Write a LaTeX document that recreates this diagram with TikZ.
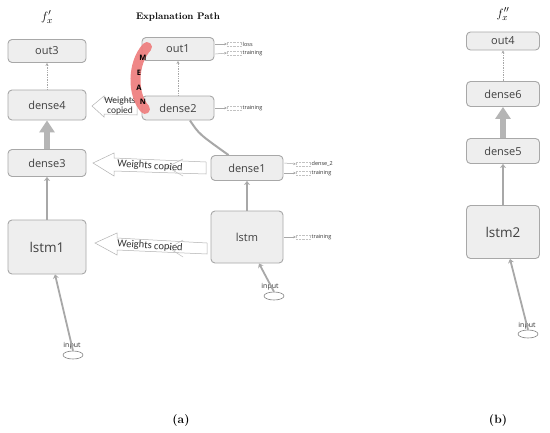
\documentclass[tikz,border=0pt]{standalone}
\usepackage{fontspec}
\setsansfont{Open Sans}
\newfontfamily\calfont{Carlito}
\usetikzlibrary{arrows.meta,calc,shapes.geometric}
\definecolor{boxfill}{HTML}{EEEEEE}
\definecolor{boxline}{HTML}{A8A8A8}
\definecolor{conn}{HTML}{A8A8A8}
\definecolor{meanred}{HTML}{EE7B7B}
\begin{document}
\begin{tikzpicture}[x=1pt,y=-1pt,
  layer/.style={draw=boxline, line width=0.9pt, fill=boxfill, rounded corners=4pt,
    font=\sffamily\fontsize{11}{13}\selectfont, text=black!75, inner sep=0pt},
  biglayer/.style={layer, font=\sffamily\fontsize{13.5}{15}\selectfont},
  dotconn/.style={draw=conn, densely dotted, line width=0.7pt, -{Stealth[length=3pt,width=3pt]}},
  fatconn/.style={draw=conn!85, line width=6pt, -{Triangle[length=12pt,width=15pt]}},
  lineconn/.style={draw=conn, line width=2.6pt, -{Stealth[length=4pt,width=6pt]}},
  outconn/.style={draw=conn, line width=0.5pt, -{Stealth[length=2.5pt,width=2.5pt]}},
  outbox/.style={draw=boxline!70, densely dotted, line width=0.4pt, minimum width=14pt, minimum height=4.5pt, inner sep=0pt},
  outlabel/.style={font=\sffamily\fontsize{5.5}{6}\selectfont, anchor=west, inner sep=0.5pt, text=black!80},
  wcopy/.style={draw=black!30, line width=0.5pt, fill=white},
  wtext/.style={font=\calfont\fontsize{10.5}{11}\selectfont, text=black!80},
  inp/.style={draw=black!50, line width=0.6pt, ellipse, minimum width=20pt, minimum height=8pt, inner sep=0pt},
  inplabel/.style={font=\sffamily\fontsize{7}{8}\selectfont, text=black!80, inner sep=0pt},
  meanletter/.style={font=\sffamily\bfseries\fontsize{7.5}{8}\selectfont, inner sep=0pt}
]
\useasboundingbox (0,0) rectangle (550,432);
\fill[white] (0,0) rectangle (550,432);

% titles
\node (t1) at (47,17) {\fontsize{12.5}{14}\selectfont $f'_x$};
\node (t2) at (178,17) {\bfseries\fontsize{9.5}{11}\selectfont Explanation Path};
\node (t3) at (503,14) {\fontsize{12.5}{14}\selectfont $f''_x$};
\node (ca) at (181,421) {\bfseries\fontsize{12}{14}\selectfont (a)};
\node (cb) at (498,421) {\bfseries\fontsize{12}{14}\selectfont (b)};

% weights copied arrows (behind boxes)
\draw[wcopy] (92,106) -- (104,96) -- (104,99) -- (137,101) -- (137,115) -- (104,114) -- (104,117) -- cycle;
\node[wtext, align=center, font=\calfont\fontsize{9.5}{10}\selectfont] (w1) at (120,106) {Weights\\copied};

\draw[wcopy] (93,163) -- (114,153) -- (114,158) -- (206,162) -- (206,174) -- (114,171) -- (114,176) -- cycle;
\draw[draw=black!25, line width=0.5pt] (183,159) -- (167,167) -- (183,176);
\node[wtext, rotate=-4] (w2) at (150,166) {Weights copied};

\draw[wcopy] (95,243) -- (117,233) -- (117,238) -- (207,243) -- (207,254) -- (117,250) -- (117,255) -- cycle;
\draw[draw=black!25, line width=0.5pt] (183,240) -- (169,248) -- (183,257);
\node[wtext, rotate=-4] (w3) at (150,246) {Weights copied};

% left column
\node[layer, minimum width=78pt, minimum height=23pt] (out3) at (47,51) {out3};
\node[layer, minimum width=78pt, minimum height=30pt] (dense4) at (47,105) {dense4};
\node[layer, minimum width=78pt, minimum height=27pt] (dense3) at (47,163) {dense3};
\node[biglayer, minimum width=78pt, minimum height=54pt] (lstm1) at (47,247) {lstm1};
\node[inp] (in1) at (73,355) {};
\node[inplabel] (in1l) at (72,346) {input};

% middle column
\node[layer, minimum width=72pt, minimum height=23pt] (out1) at (178,49) {out1};
\node[layer, minimum width=72pt, minimum height=24pt] (dense2) at (178,108) {dense2};
\node[layer, minimum width=72pt, minimum height=25pt] (dense1) at (247,168) {dense1};
\node[layer, minimum width=72pt, minimum height=52pt] (lstm) at (247,237) {lstm};
\node[inp] (in2) at (274,296) {};
\node[inplabel] (in2l) at (270,287) {input};

% right column
\node[layer, minimum width=73pt, minimum height=18pt] (out4) at (503,41) {out4};
\node[layer, minimum width=73pt, minimum height=25pt] (dense6) at (503,94) {dense6};
\node[layer, minimum width=73pt, minimum height=25pt] (dense5) at (503,151) {dense5};
\node[biglayer, minimum width=73pt, minimum height=53pt] (lstm2) at (503,232) {lstm2};
\node[inp] (in3) at (528,334) {};
\node[inplabel] (in3l) at (527,326) {input};

% connectors left
\draw[dotconn] (dense4.north) -- (out3.south);
\draw[fatconn] (dense3.north) -- (dense4.south);
\draw[lineconn] (lstm1.north) -- (dense3.south);
\draw[lineconn, line width=1.8pt] (in1.north) -- ($(lstm1.south)+(8,0)$);

% connectors middle
\draw[dotconn] (dense2.north) -- (out1.south);
\draw[draw=conn, line width=2pt] ($(dense2.south)+(12,0)$) .. controls (199,134) .. ($(dense1.north west)+(18,0)$);
\draw[lineconn] (lstm.north) -- (dense1.south);
\draw[lineconn, line width=1.8pt] (in2.north) -- ($(lstm.south)+(12,0)$);

% connectors right
\draw[dotconn] (dense6.north) -- (out4.south);
\draw[fatconn] (dense5.north) -- (dense6.south);
\draw[lineconn] (lstm2.north) -- (dense5.south);
\draw[lineconn, line width=1.8pt] (in3.north) -- ($(lstm2.south)+(7,0)$);

% small outputs
\node[outbox] (ob1) at (234,44) {};
\node[outlabel] (ol1) at (242,44) {loss};
\node[outbox] (ob2) at (234,53) {};
\node[outlabel] (ol2) at (242,53) {training};
\draw[outconn] ($(out1.east)+(1,-5)$) -- (ob1.west);
\draw[outconn] ($(out1.east)+(1,5)$) -- (ob2.west);

\node[outbox] (ob3) at (234,108) {};
\node[outlabel] (ol3) at (242,108) {training};
\draw[outconn] ($(dense2.east)+(1,0)$) -- (ob3.west);

\node[outbox] (ob4) at (303,164) {};
\node[outlabel] (ol4) at (311,164) {dense\_2};
\node[outbox] (ob5) at (303,173) {};
\node[outlabel] (ol5) at (311,173) {training};
\draw[outconn] ($(dense1.east)+(1,-5)$) -- (ob4.west);
\draw[outconn] ($(dense1.east)+(1,5)$) -- (ob5.west);

\node[outbox] (ob6) at (303,237) {};
\node[outlabel] (ol6) at (311,237) {training};
\draw[outconn] ($(lstm.east)+(1,0)$) -- (ob6.west);

% MEAN highlight
\draw[meanred, opacity=0.9, line width=10pt, line cap=round] (147,47) .. controls (132,63) and (132,95) .. (145,109);
\node[meanletter] (mM) at (143,58) {M};
\node[meanletter] (mE) at (139,73) {E};
\node[meanletter] (mA) at (139,88) {A};
\node[meanletter] (mN) at (143,102) {N};
\end{tikzpicture}
\end{document}
